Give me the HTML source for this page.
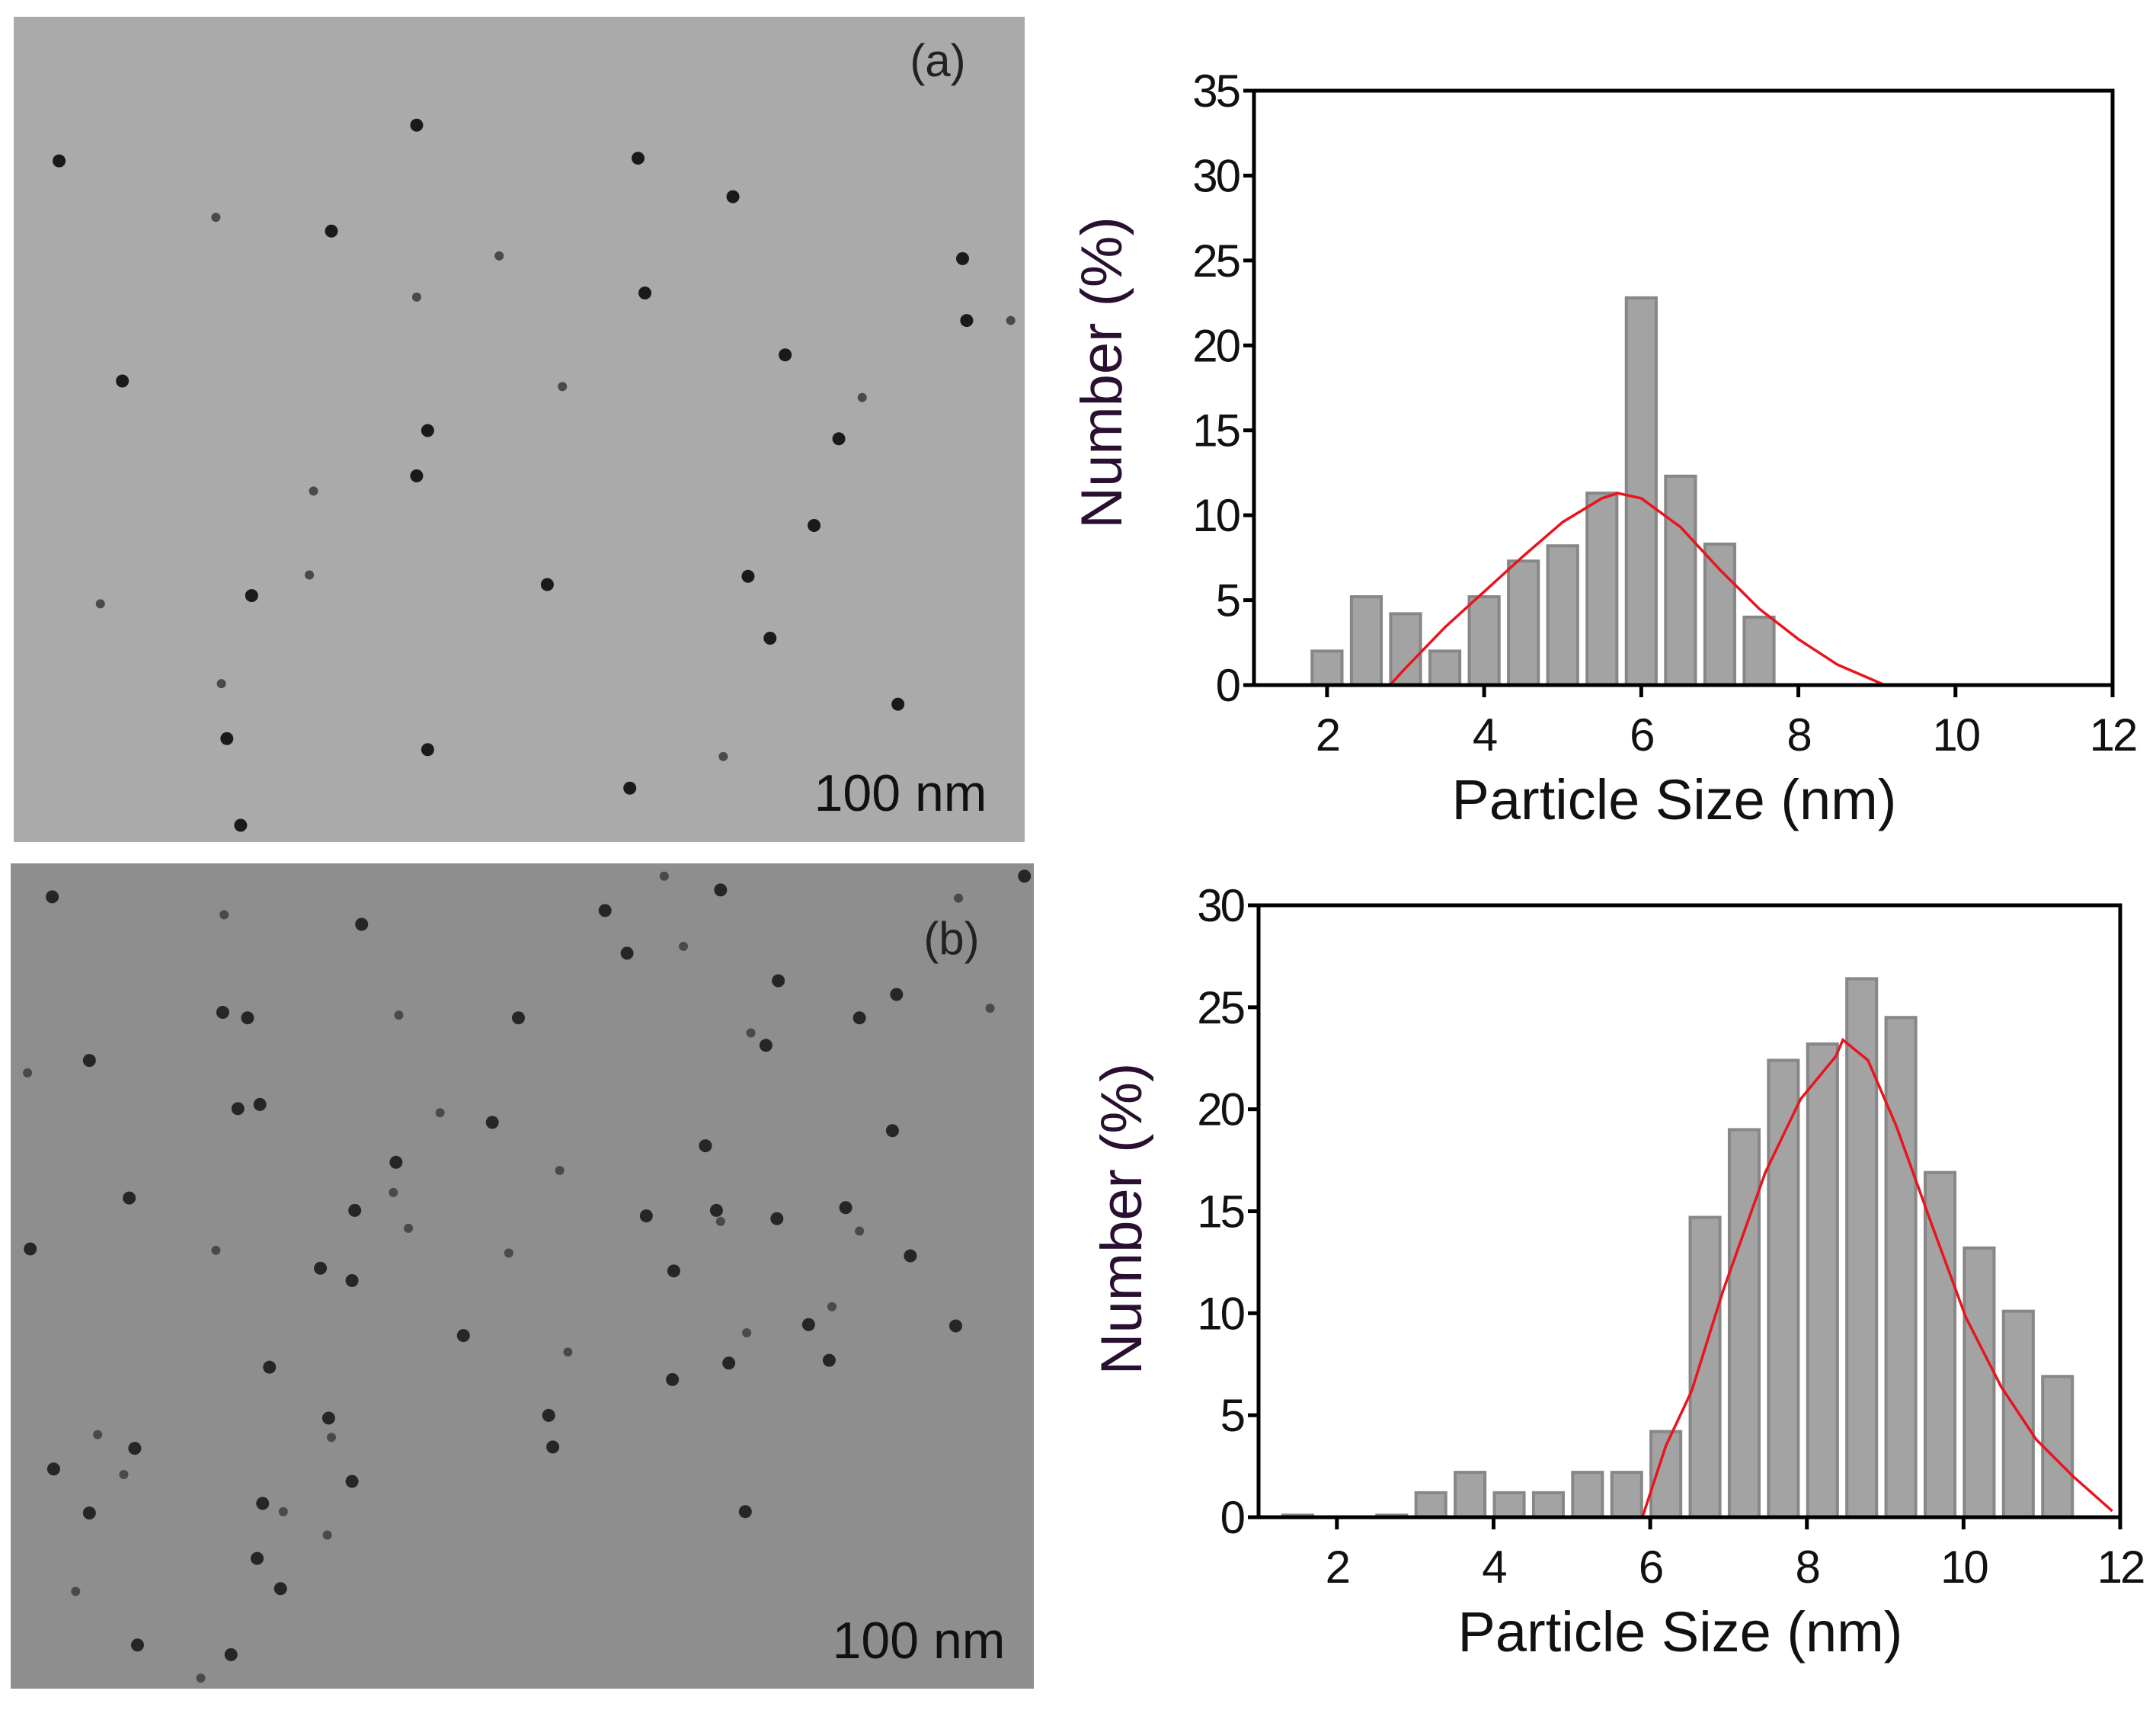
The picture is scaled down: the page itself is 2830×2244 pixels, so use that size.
<!DOCTYPE html>
<html><head><meta charset="utf-8">
<style>
html,body{margin:0;padding:0;background:#fff;}
svg{display:block;font-family:"Liberation Sans",Arial,sans-serif;}
</style></head>
<body>
<svg id="fig" width="2830" height="2244" viewBox="0 0 2830 2244" xmlns="http://www.w3.org/2000/svg">
<rect x="0" y="0" width="2830" height="2244" fill="#fff"/>
<g id="temA">
  <rect x="18" y="22" width="1327" height="1083" fill="#aaaaaa"/>
</g>
<g id="temB">
  <rect x="14" y="1133" width="1343" height="1083" fill="#8e8e8e"/>
</g>
<text x="1231" y="100" font-size="60" fill="#222" text-anchor="middle">(a)</text>
<text x="1182" y="1064" font-size="68" fill="#111" text-anchor="middle">100 nm</text>
<text x="1249" y="1252" font-size="60" fill="#222" text-anchor="middle">(b)</text>
<text x="1206" y="2176" font-size="68" fill="#111" text-anchor="middle">100 nm</text>
<g id="chartA"></g>
<g id="chartB"></g>
</svg>
<script>
// ---- Chart A data ----
const catsA = [2,2.5,3,3.5,4,4.5,5,5.5,6,6.5,7,7.5];
const valsA = [2,5.2,4.2,2,5.2,7.3,8.2,11.3,22.8,12.3,8.3,4];
const fitXA = [2.8,3,3.5,4,4.5,5,5.5,5.7,6,6.5,7,7.5,8,8.5,9,9.1];
const fitYA = [0,1,3.4,5.5,7.6,9.6,11,11.3,11,9.3,6.8,4.5,2.7,1.2,0.2,0];
const yTicksA = [0,5,10,15,20,25,30,35];
const xTicksA = [2,4,6,8,10,12];
// ---- Chart B data ----
const catsB = [1.5,2.7,3.2,3.7,4.2,4.7,5.2,5.7,6.2,6.7,7.2,7.7,8.2,8.7,9.2,9.7,10.2,10.7,11.2];
const valsB = [0.1,0.1,1.2,2.2,1.2,1.2,2.2,2.2,4.2,14.7,19,22.4,23.2,26.4,24.5,16.9,13.2,10.1,6.9];
const fitXB = [5.9,6.2,6.53,6.93,7.47,7.92,8.37,8.46,8.78,9.14,9.58,10.03,10.48,10.93,11.4,11.9];
const fitYB = [0,3.5,6.2,11.1,16.9,20.5,22.6,23.4,22.4,19.2,14.5,9.8,6.4,3.8,2.0,0.3];
const yTicksB = [0,5,10,15,20,25,30];
const xTicksB = [2,4,6,8,10,12];

const NS = "http://www.w3.org/2000/svg";
function mk(parent, tag, attrs){
  const e = document.createElementNS(NS, tag);
  for (const k in attrs) e.setAttribute(k, attrs[k]);
  parent.appendChild(e); return e;
}

function drawChart(g, cfg, cats, vals, fx, fy, yTicks, xTicks, key){
  const X = v => cfg.left + (v - cfg.xmin) / (cfg.xmax - cfg.xmin) * (cfg.right - cfg.left);
  const Y = v => cfg.bottom - (v - cfg.ymin) / (cfg.ymax - cfg.ymin) * (cfg.bottom - cfg.top);
  const bw = 0.38 * (cfg.right - cfg.left) / (cfg.xmax - cfg.xmin);
  cats.forEach((c, i) => {
    const r = mk(g, 'rect', {x: X(c) - bw/2, y: Y(vals[i]), width: bw, height: Y(0) - Y(vals[i]), fill: '#a3a3a3', stroke: '#878787', 'stroke-width': 4});
    
    
  });
  const pts = fx.map((x, i) => X(x).toFixed(1) + ',' + Y(fy[i]).toFixed(1)).join(' ');
  const pl = mk(g, 'polyline', {points: pts, fill: 'none', stroke: '#e8141e', 'stroke-width': 3.5});
  
  
  const fr = mk(g, 'rect', {x: cfg.left, y: cfg.top, width: cfg.right - cfg.left, height: cfg.bottom - cfg.top, fill: 'none', stroke: '#000', 'stroke-width': 5});
  
  
  yTicks.forEach(t => {
    const tk = mk(g, 'line', {x1: cfg.left - 14, x2: cfg.left, y1: Y(t), y2: Y(t), stroke: '#000', 'stroke-width': 5});
    
    
    const tx = mk(g, 'text', {x: cfg.left - 20, y: Y(t) + 21, 'font-size': 60, 'text-anchor': 'end', fill: '#111', 'letter-spacing': -3});
    tx.textContent = t;
    
    
  });
  xTicks.forEach(t => {
    const tk = mk(g, 'line', {x1: X(t), x2: X(t), y1: cfg.bottom, y2: cfg.bottom + 16, stroke: '#000', 'stroke-width': 5});
    
    
    const tx = mk(g, 'text', {x: X(t), y: cfg.bottom + 86, 'font-size': 60, 'text-anchor': 'middle', fill: '#111', 'letter-spacing': -3});
    tx.textContent = t;
    
    
  });
  const xt = mk(g, 'text', {x: (cfg.left + cfg.right) / 2 - 12, y: cfg.bottom + 176, 'font-size': 74, 'text-anchor': 'middle', fill: '#111'});
  xt.textContent = 'Particle Size (nm)';
  
  
  const cy = (cfg.top + cfg.bottom) / 2 + cfg.ytOff;
  const yt = mk(g, 'text', {x: cfg.ytx, y: cy, 'font-size': 76, 'text-anchor': 'middle', fill: '#2a1030', transform: 'rotate(-90 ' + cfg.ytx + ' ' + cy + ')'});
  yt.textContent = 'Number (%)';
  
  
}

drawChart(document.getElementById('chartA'),
  {left:1646,right:2773,top:119,bottom:899,xmin:1.07,xmax:12,ymin:0,ymax:35,ytx:1472,ytOff:-20},
  catsA, valsA, fitXA, fitYA, yTicksA, xTicksA, 'a');
drawChart(document.getElementById('chartB'),
  {left:1652,right:2783,top:1188,bottom:1991,xmin:1,xmax:12,ymin:0,ymax:30,ytx:1498,ytOff:10},
  catsB, valsB, fitXB, fitYB, yTicksB, xTicksB, 'b');

// TEM particle dots (image texture, thumbnail coordinates scaled to full size)
const dotsA = [[43,117],[157,158],[241,168],[303,91],[363,186],[464,115],[533,143],[303,216],[469,213],[89,277],[409,281],[311,313],[610,319],[228,357],[303,346],[592,382],[225,418],[398,425],[544,419],[73,439],[183,433],[560,464],[161,497],[165,537],[311,545],[526,550],[458,573],[703,233],[735,233],[700,188],[571,258],[627,289],[653,512],[175,600]];
const dotsB = [[38,652],[163,665],[263,672],[440,662],[483,637],[524,647],[566,713],[697,653],[745,637],[65,771],[20,780],[162,736],[180,740],[290,738],[377,740],[456,693],[497,688],[625,740],[652,723],[720,733],[173,806],[189,803],[320,809],[358,816],[513,833],[546,751],[557,760],[649,822],[407,851],[288,845],[258,880],[157,909],[233,922],[256,931],[297,893],[470,884],[521,880],[524,888],[565,886],[615,878],[625,895],[662,913],[490,924],[370,911],[337,971],[196,994],[413,983],[489,1003],[530,991],[543,969],[588,963],[603,989],[605,950],[695,964],[239,1031],[241,1045],[399,1029],[402,1052],[71,1043],[98,1053],[39,1068],[90,1072],[256,1077],[191,1093],[206,1099],[65,1100],[542,1099],[238,1116],[187,1133],[204,1155],[55,1157],[100,1196],[168,1203],[146,1220],[94,871],[22,908],[286,867]];
const S = 1.805;
[[dotsA,'temA','#1a1a1a'],[dotsB,'temB','#262626']].forEach(([arr,id,col]) => {
  const g = document.getElementById(id);
  arr.forEach((p, i) => {
    const c = mk(g, 'circle', {cx: p[0]*S, cy: p[1]*S, r: (i % 3 === 1) ? 6 : 8.5, fill: (i % 3 === 1) ? '#4a4a4a' : col});
    
    
  });
});
</script>
</body></html>
